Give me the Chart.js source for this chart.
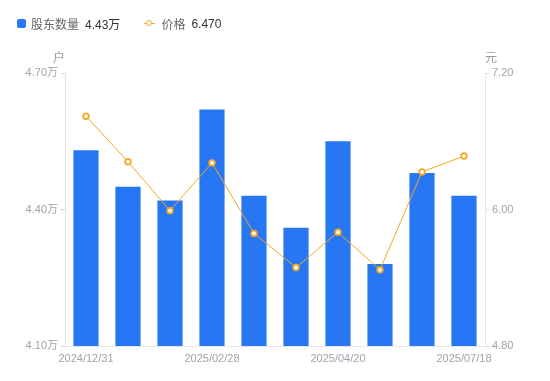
<!DOCTYPE html>
<html>
<head>
<meta charset="utf-8">
<script src="https://cdn.jsdelivr.net/npm/chart.js@4.4.0/dist/chart.umd.min.js"></script>
<style>
  html, body { margin: 0; padding: 0; background: #fff; }
  .wrap { position: relative; width: 550px; height: 381px; }
  canvas { position: absolute; left: 0; top: 0; }
  .legend { position: absolute; left: 17px; top: 15px; font: 12px "Liberation Sans", "Noto Sans CJK SC", sans-serif; display: flex; align-items: center; }
  .legend .item { display: flex; align-items: center; margin-right: 24px; }
  .legend .box { width: 9px; height: 9px; border-radius: 2px; background: #2777f4; margin-right: 5px; }
  .legend .lineicon { position: relative; width: 11px; height: 9px; margin-right: 6px; }
  .legend .lineicon::before { content: ""; position: absolute; left: 0; right: 0; top: 4px; height: 1px; background: #f5a623; }
  .legend .lineicon::after { content: ""; position: absolute; left: 2px; top: 1px; width: 4px; height: 4px; border: 1.5px solid #f5a623; border-radius: 50%; background: #fff; }
  .legend .name { color: #666; margin-right: 6px; }
  .legend .val { color: #333; }
</style>
</head>
<body>
<div class="wrap">
  <canvas id="graph-holders" width="550" height="381"></canvas>
  <div class="legend">
    <div class="item"><span class="box"></span><span class="name">股东数量</span><span class="val">4.43万</span></div>
    <div class="item"><span class="lineicon"></span><span class="name">价格</span><span class="val">6.470</span></div>
  </div>
</div>
<script>
const dates = ["2024/12/31", "2025/01/20", "2025/02/10", "2025/02/28", "2025/03/10",
  "2025/03/31", "2025/04/20", "2025/05/31", "2025/06/30", "2025/07/18"];
const holders = [4.53, 4.45, 4.42, 4.62, 4.43, 4.36, 4.55, 4.28, 4.48, 4.43];
const prices = [6.82, 6.42, 5.99, 6.41, 5.79, 5.49, 5.80, 5.47, 6.33, 6.47];
const shownLabels = [0, 3, 6, 9];
const holderTicks = [4.10, 4.40, 4.70];
const priceTicks = [4.80, 6.00, 7.20];

const fontFamily = '"Liberation Sans", "Noto Sans CJK SC", sans-serif';
const axisGray = "#e6e6e6";
const textGray = "#a0a3ad";

const unitTitles = {
  id: "unitTitles",
  afterDraw(chart) {
    const { ctx, chartArea } = chart;
    ctx.save();
    ctx.font = "12px " + fontFamily;
    ctx.fillStyle = "#999";
    ctx.textBaseline = "middle";
    ctx.textAlign = "center";
    ctx.fillText("户", chartArea.left - 6, chartArea.top - 14);
    ctx.fillText("元", chartArea.right + 6, chartArea.top - 14);
    ctx.restore();
  },
};

new Chart(document.getElementById("graph-holders"), {
  data: {
    labels: dates,
    datasets: [
      {
        type: "line",
        data: prices,
        yAxisID: "y1",
        borderColor: "#f5a623",
        borderWidth: 1,
        pointRadius: 2.8,
        pointBorderWidth: 1.8,
        pointBackgroundColor: "#fff",
        pointBorderColor: "#f5a623",
        tension: 0,
        order: 0,
      },
      {
        type: "bar",
        data: holders,
        yAxisID: "y",
        backgroundColor: "#2777f4",
        borderWidth: 0,
        categoryPercentage: 0.6,
        barPercentage: 1,
        order: 1,
      },
    ],
  },
  options: {
    responsive: false,
    animation: false,
    layout: { padding: { top: 73 } },
    plugins: {
      legend: { display: false },
      tooltip: { enabled: false },
    },
    scales: {
      x: {
        grid: { display: true, drawOnChartArea: false, drawTicks: false },
        border: { color: axisGray },
        afterFit: (s) => { s.height = 35; },
        ticks: {
          autoSkip: false,
          maxRotation: 0,
          padding: 6,
          color: textGray,
          font: { size: 11, family: fontFamily },
          callback: (v, i) => (shownLabels.includes(i) ? dates[i] : ""),
        },
      },
      y: {
        position: "left",
        min: 4.10,
        max: 4.70,
        afterBuildTicks: (s) => { s.ticks = holderTicks.map((v) => ({ value: v })); },
        afterFit: (s) => { s.width = 65; },
        grid: { drawOnChartArea: false, tickLength: 4, color: "#d8d8d8" },
        border: { color: axisGray },
        ticks: {
          padding: 3,
          color: textGray,
          font: { size: 11, family: fontFamily },
          callback: (v) => v.toFixed(2) + "万",
        },
      },
      y1: {
        position: "right",
        min: 4.80,
        max: 7.20,
        afterBuildTicks: (s) => { s.ticks = priceTicks.map((v) => ({ value: v })); },
        afterFit: (s) => { s.width = 65; },
        grid: { drawOnChartArea: false, tickLength: 4, color: "#d8d8d8" },
        border: { color: axisGray },
        ticks: {
          padding: 3,
          color: textGray,
          font: { size: 11, family: fontFamily },
          callback: (v) => v.toFixed(2),
        },
      },
    },
  },
  plugins: [unitTitles],
});
</script>
</body>
</html>
